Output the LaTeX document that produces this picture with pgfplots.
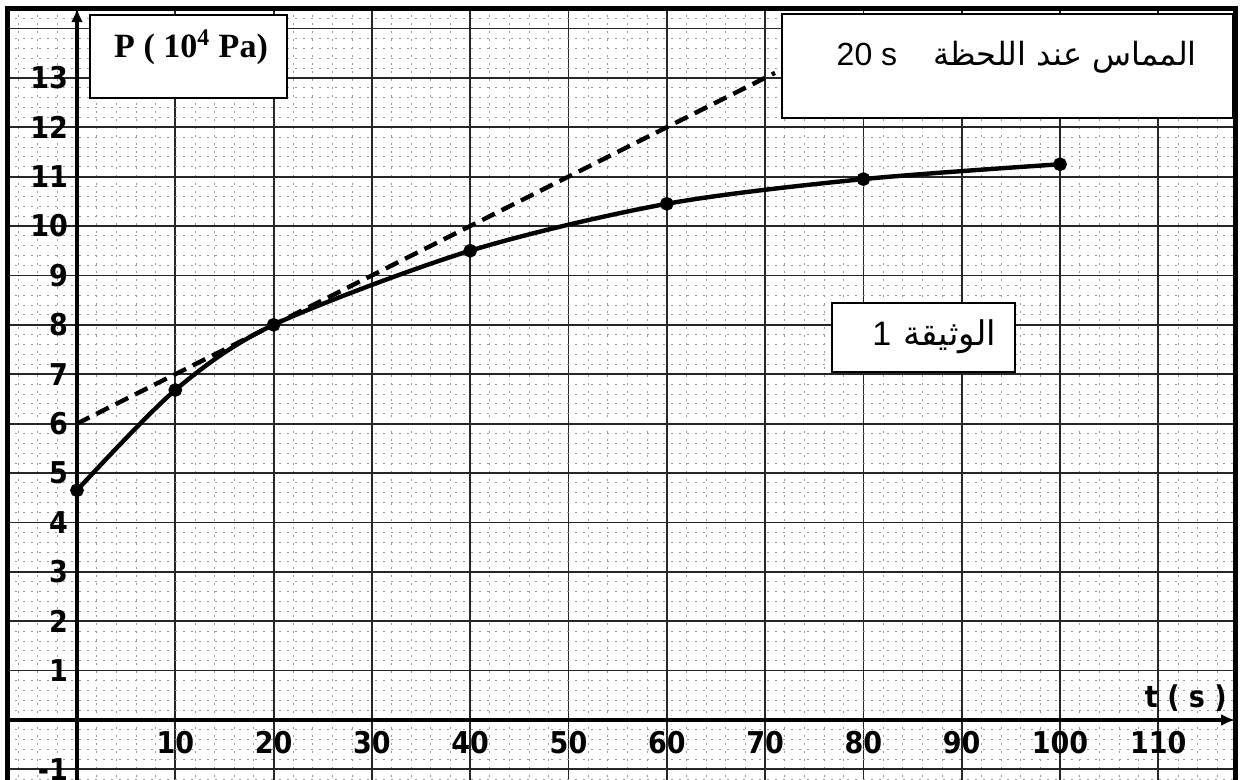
\documentclass[border=0pt]{standalone}
\usepackage{pgfplots}
\pgfplotsset{compat=1.18}
\usetikzlibrary{arrows.meta}
\usepackage{fontspec}
\setmainfont{Liberation Serif}
\newfontfamily\tickfont{DejaVu Sans Condensed}
\newfontfamily\arabicfont[Script=Arabic]{DejaVu Sans}
\newfontfamily\arialfont{Liberation Sans}
\TeXXeTstate=1
\begin{document}
\begin{tikzpicture}
\begin{axis}[
  at={(3.6pt,-2.5pt)}, anchor=south west, scale only axis,
  width=613.9pt, height=388.4pt,
  xmin=-7.1, xmax=117.8, ymin=-1.316, ymax=14.41,
  axis lines=middle,
  axis line style={line width=1.6pt, -{Latex[length=7pt,width=6pt]}},
  xtick={0,10,...,110}, xticklabels={,10,20,30,40,50,60,70,80,90,100,110},
  ytick={-1,0,...,14}, yticklabels={-1,,1,2,3,4,5,6,7,8,9,10,11,12,13,},
  minor xtick={-6,-4,...,116},
  minor ytick={-1.2,-1.0,...,14.4},
  grid=both,
  major grid style={black!85, line width=0.9pt},
  minor grid style={black!40, line width=0.45pt, dash pattern=on 0.8pt off 3.2pt},
  major tick length=0pt, minor tick length=0pt,
  ticklabel style={font=\tickfont\bfseries\fontsize{15}{15}\selectfont},
  xticklabel style={yshift=-2pt},
  yticklabel style={xshift=-1pt},
  clip=false,
]
\addplot[black, line width=2.2pt, smooth, mark=*, mark size=2.3pt] coordinates {(0,4.65)(10,6.68)(20,8.0)(40,9.5)(60,10.45)(80,10.95)(100,11.25)};
\addplot[black, line width=2.2pt, dash pattern=on 7pt off 3.8pt] coordinates {(0,6)(71,13.1)};
\draw[fill=white, line width=0.9pt] (axis cs:1.3,12.59) rectangle (axis cs:21.4,14.27);
\node at (axis cs:11.6,13.62) {\bfseries\fontsize{17}{20}\selectfont P ( 10\textsuperscript{4} Pa)};
\draw[fill=white, line width=1.2pt] (axis cs:71.7,12.19) rectangle (axis cs:117.6,14.29);
\node at (axis cs:95.6,13.42) {\fontsize{16}{19}\selectfont{\arialfont 20 s}\hspace{18pt}{\arabicfont\beginR المماس عند اللحظة\endR}};
\draw[fill=white, line width=1.1pt] (axis cs:76.8,7.04) rectangle (axis cs:95.4,8.44);
\node at (axis cs:87.2,7.76) {\fontsize{17}{20}\selectfont{\arialfont 1}\hspace{6pt}{\arabicfont\beginR الوثيقة\endR}};
\node at (axis cs:112.8,0.45) {\tickfont\bfseries\fontsize{15}{15}\selectfont t ( s )};
\draw[line width=2.5pt] (rel axis cs:0,0) rectangle (rel axis cs:1,1);
\end{axis}
\pgfresetboundingbox
\path[use as bounding box] (0,0) rectangle (623pt,390pt);
\end{tikzpicture}
\end{document}
